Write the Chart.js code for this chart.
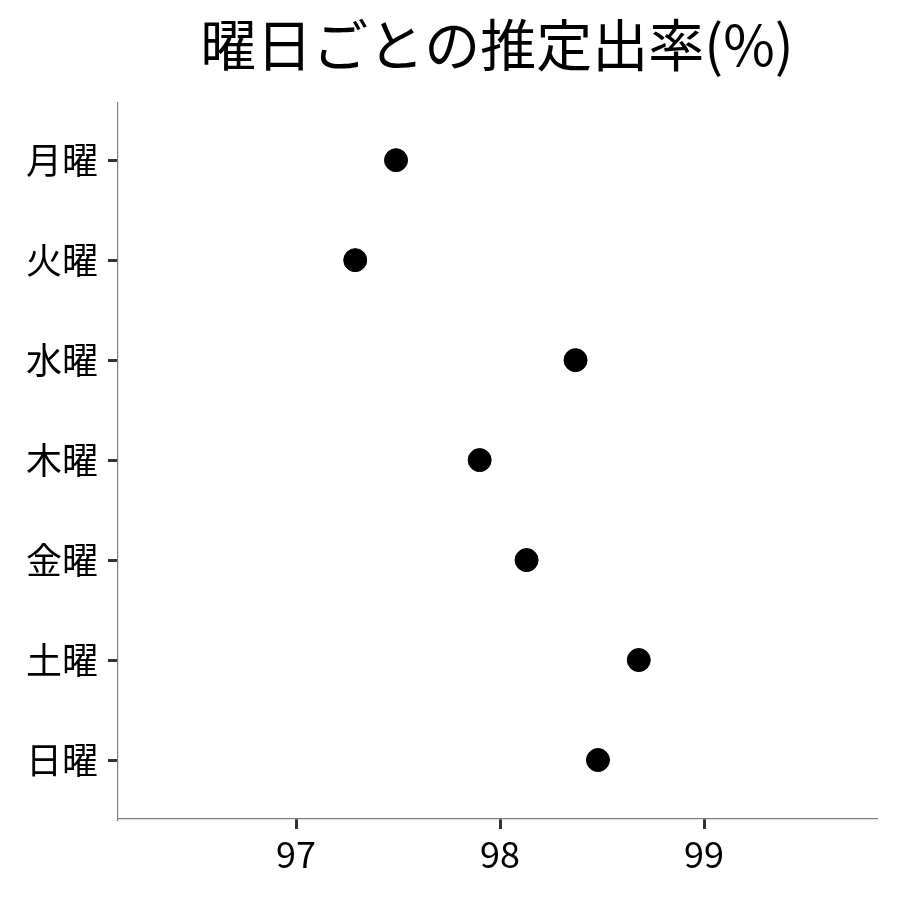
<!DOCTYPE html>
<html><head><meta charset="utf-8">
<script src="https://cdn.jsdelivr.net/npm/chart.js@4"></script>
<style>html,body{margin:0;padding:0;background:#fff}#wrap{width:900px;height:900px}</style>
</head><body><div id="wrap"><canvas id="c" width="900" height="900"></canvas></div>
<script>
const titleText = "曜日ごとの推定出率(%)";
const days = ["月曜","火曜","水曜","木曜","金曜","土曜","日曜"];
const rates = [97.49, 97.29, 98.37, 97.90, 98.13, 98.68, 98.48];
const xTicks = [97, 98, 99];

const FONT = "'Noto Sans CJK JP', 'Noto Sans', sans-serif";
const points = days.map((d, i) => ({x: rates[i], y: i}));

new Chart(document.getElementById('c'), {
  type: 'scatter',
  data: { datasets: [{ data: points, backgroundColor: '#000', borderColor: '#000', pointRadius: 11.5, pointHoverRadius: 11.5 }] },
  options: {
    responsive: false, animation: false, devicePixelRatio: 1,
    layout: { padding: { left: 0, right: 24, top: 0, bottom: 0 } },
    plugins: {
      legend: { display: false }, tooltip: { enabled: false },
      title: { display: true, text: titleText, fullSize: false, color: '#000',
        font: { family: FONT, size: 56, weight: 'normal', lineHeight: 1.2 },
        padding: { top: 11, bottom: 24 } }
    },
    scales: {
      x: {
        type: 'linear', min: 96.127, max: 99.843,
        afterBuildTicks: s => { s.ticks = xTicks.map(v => ({value: v})); },
        afterFit: s => { s.height = 81; },
        grid: { drawOnChartArea: false, drawTicks: true, tickLength: 10, lineWidth: 3, tickColor: '#333', tickWidth: 3, color: '#333' },
        border: { display: true, color: '#7f7f7f', width: 1.2 },
        ticks: { color: '#000', padding: 4, font: { family: FONT, size: 36 }, maxRotation: 0 }
      },
      y: {
        type: 'linear', reverse: true, min: -0.58, max: 6.59,
        afterBuildTicks: s => { s.ticks = days.map((d, i) => ({value: i})); },
        afterFit: s => { s.width = 118; },
        grid: { drawOnChartArea: false, drawTicks: true, tickLength: 10, lineWidth: 3, tickColor: '#333', tickWidth: 3, color: '#333' },
        border: { display: true, color: '#7f7f7f', width: 1.2 },
        ticks: { color: '#000', padding: 10, font: { family: FONT, size: 36 },
          callback: v => days[v] }
      }
    }
  }
});
</script></body></html>
